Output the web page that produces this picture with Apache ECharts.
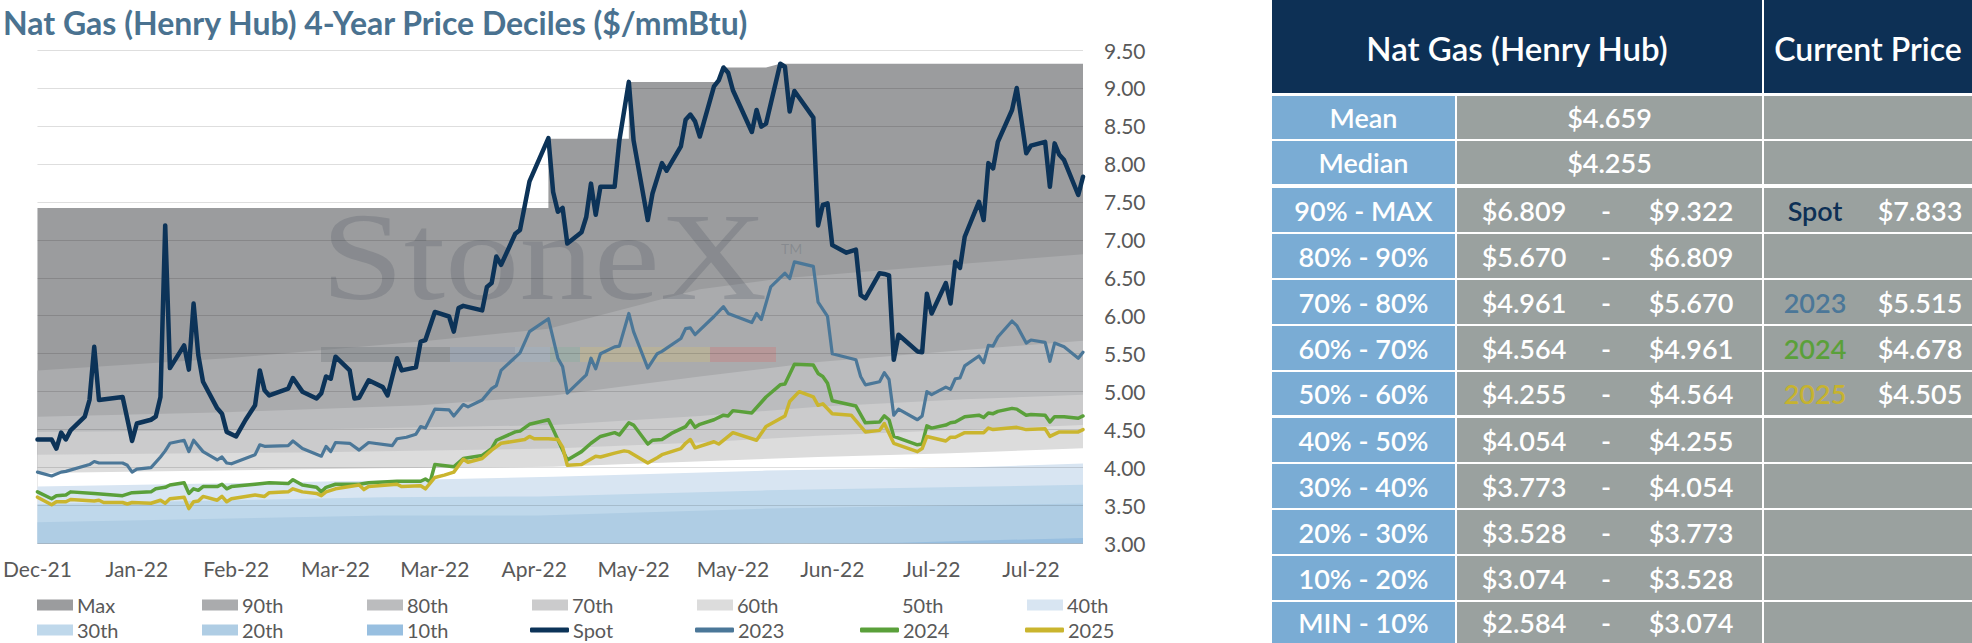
<!DOCTYPE html>
<html>
<head>
<meta charset="utf-8">
<script src="https://cdn.jsdelivr.net/npm/echarts@6/dist/echarts.min.js"></script>
<style>
html,body{margin:0;padding:0;background:#fff;overflow:hidden;}
#chart{width:1972px;height:643px;}
</style>
</head>
<body>
<div id="chart"></div>
<script>
// ---- axis tick labels (every 21 days from 2021-12-28) ----
const tickLabels = ['Dec-21','Jan-22','Feb-22','Mar-22','Mar-22','Apr-22','May-22','May-22','Jun-22','Jul-22','Jul-22'];

// ---- series: [day offset, $/mmBtu] ----
const spot = [[0,4.37],[3,4.37],[4,4.25],[5,4.46],[6,4.37],[7,4.49],[10,4.67],[11,4.89],[12,5.59],[13,4.89],[18,4.93],[20,4.35],[21,4.58],[24,4.63],[25,4.67],[26,4.93],[27,7.19],[28,5.31],[31,5.61],[32,5.29],[33,6.16],[34,5.48],[35,5.13],[38,4.78],[39,4.71],[40,4.47],[42,4.41],[44,4.63],[46,4.82],[47,5.28],[48,5.02],[49,4.95],[53,5.04],[54,5.18],[56,5.00],[59,4.91],[60,4.98],[61,5.20],[62,5.17],[63,5.46],[66,5.28],[67,4.91],[68,4.92],[70,5.15],[73,5.06],[74,4.95],[76,5.44],[77,5.28],[80,5.32],[81,5.66],[82,5.68],[84,6.05],[87,5.99],[88,5.79],[89,6.10],[90,6.13],[94,6.07],[95,6.38],[96,6.43],[97,6.78],[98,6.67],[101,7.08],[102,7.13],[104,7.77],[108,8.34],[109,7.63],[110,7.37],[111,7.42],[112,6.95],[115,7.10],[116,7.30],[117,7.74],[118,7.33],[119,7.70],[122,7.70],[123,8.31],[125,9.08],[126,8.31],[129,7.26],[130,7.61],[132,8.01],[133,7.91],[136,8.23],[137,8.58],[138,8.65],[139,8.56],[140,8.36],[143,9.02],[144,9.10],[145,9.27],[146,9.20],[147,8.97],[151,8.42],[152,8.71],[153,8.49],[154,8.53],[157,9.32],[158,9.28],[159,8.69],[160,8.96],[164,8.61],[165,7.19],[166,7.46],[167,7.48],[168,6.93],[171,6.83],[173,6.87],[174,6.27],[175,6.23],[178,6.56],[179,6.55],[180,6.53],[181,5.42],[182,5.75],[186,5.53],[187,5.52],[188,6.29],[189,6.03],[192,6.43],[193,6.16],[194,6.71],[195,6.63],[196,7.04],[199,7.50],[200,7.26],[201,8.01],[202,7.94],[203,8.29],[206,8.71],[207,9.00],[209,8.14],[210,8.24],[213,8.29],[214,7.70],[215,8.27],[216,8.12],[217,8.05],[220,7.59],[221,7.83]];

const strip2023 = [[0,3.94],[3,3.89],[5,3.94],[6,3.95],[11,4.04],[12,4.08],[13,4.06],[18,4.06],[19,4.03],[20,3.94],[21,3.98],[24,4.00],[26,4.14],[27,4.22],[28,4.32],[31,4.36],[32,4.21],[33,4.36],[35,4.21],[38,4.10],[39,4.14],[40,4.06],[41,4.05],[46,4.17],[47,4.30],[48,4.28],[53,4.29],[54,4.35],[56,4.25],[60,4.15],[61,4.28],[62,4.21],[63,4.33],[66,4.32],[68,4.23],[70,4.33],[75,4.29],[76,4.38],[78,4.40],[80,4.44],[81,4.54],[82,4.52],[84,4.77],[87,4.76],[88,4.68],[90,4.83],[91,4.80],[94,4.89],[96,5.04],[97,5.08],[98,5.28],[102,5.51],[104,5.79],[108,5.96],[110,5.44],[111,5.33],[112,4.98],[116,5.22],[117,5.44],[118,5.30],[119,5.50],[122,5.59],[123,5.60],[125,6.03],[126,5.79],[129,5.31],[131,5.50],[132,5.53],[136,5.70],[137,5.83],[138,5.84],[139,5.75],[143,5.99],[145,6.12],[146,6.03],[151,5.91],[152,6.03],[153,5.95],[155,6.38],[158,6.56],[159,6.49],[160,6.71],[164,6.65],[165,6.18],[167,5.99],[168,5.50],[173,5.42],[174,5.20],[175,5.09],[178,5.13],[179,5.25],[180,5.16],[181,4.69],[182,4.77],[186,4.63],[187,4.68],[188,5.00],[189,4.96],[192,5.06],[193,5.03],[194,5.17],[195,5.18],[196,5.34],[199,5.47],[200,5.38],[201,5.61],[202,5.60],[203,5.72],[206,5.93],[207,5.87],[209,5.64],[210,5.68],[213,5.65],[214,5.40],[215,5.64],[217,5.59],[220,5.44],[221,5.52]];

const strip2024 = [[0,3.68],[3,3.59],[4,3.63],[6,3.64],[7,3.68],[12,3.66],[18,3.63],[20,3.67],[24,3.68],[25,3.72],[27,3.74],[28,3.77],[31,3.80],[32,3.66],[33,3.72],[34,3.70],[35,3.75],[38,3.75],[39,3.78],[40,3.72],[41,3.75],[46,3.78],[49,3.80],[53,3.79],[54,3.84],[56,3.77],[59,3.74],[60,3.68],[61,3.74],[63,3.78],[68,3.78],[70,3.80],[76,3.82],[81,3.82],[82,3.85],[83,3.81],[84,4.04],[88,4.01],[90,4.12],[94,4.16],[96,4.25],[97,4.36],[101,4.47],[102,4.48],[104,4.57],[108,4.63],[109,4.50],[111,4.23],[112,4.10],[115,4.21],[117,4.32],[119,4.41],[122,4.46],[123,4.43],[125,4.59],[126,4.56],[129,4.31],[130,4.36],[132,4.37],[134,4.45],[137,4.54],[138,4.62],[139,4.53],[140,4.57],[143,4.63],[145,4.69],[146,4.68],[147,4.75],[151,4.72],[154,4.93],[157,5.09],[158,5.10],[160,5.36],[164,5.35],[165,5.24],[166,5.20],[167,5.11],[168,4.88],[173,4.81],[175,4.59],[178,4.60],[179,4.68],[180,4.63],[181,4.41],[186,4.30],[187,4.31],[188,4.55],[189,4.52],[192,4.56],[193,4.59],[194,4.60],[196,4.67],[199,4.69],[200,4.66],[201,4.72],[202,4.71],[203,4.74],[206,4.78],[207,4.77],[209,4.69],[210,4.70],[213,4.69],[214,4.60],[215,4.67],[217,4.67],[220,4.65],[221,4.68]];

const strip2025 = [[0,3.61],[3,3.51],[4,3.55],[6,3.55],[7,3.58],[12,3.56],[13,3.57],[14,3.54],[18,3.54],[19,3.52],[20,3.54],[24,3.53],[26,3.57],[27,3.53],[28,3.59],[31,3.61],[32,3.46],[33,3.55],[34,3.56],[35,3.62],[38,3.57],[39,3.62],[40,3.55],[41,3.59],[46,3.64],[48,3.62],[49,3.67],[53,3.68],[54,3.72],[56,3.68],[59,3.66],[60,3.63],[61,3.68],[63,3.72],[68,3.77],[69,3.71],[70,3.75],[76,3.78],[77,3.75],[81,3.76],[82,3.72],[84,3.87],[86,3.90],[88,3.94],[90,4.11],[91,4.07],[94,4.12],[96,4.23],[98,4.32],[103,4.37],[104,4.41],[105,4.38],[108,4.38],[110,4.37],[111,4.27],[112,4.03],[115,4.04],[118,4.15],[119,4.14],[122,4.19],[124,4.22],[125,4.21],[129,4.06],[131,4.13],[132,4.17],[136,4.25],[137,4.32],[138,4.37],[139,4.26],[143,4.34],[144,4.31],[147,4.46],[152,4.36],[154,4.54],[158,4.68],[159,4.87],[161,5.00],[164,4.93],[165,4.82],[166,4.84],[168,4.71],[172,4.69],[175,4.47],[178,4.49],[179,4.58],[181,4.32],[186,4.21],[187,4.25],[188,4.41],[192,4.35],[193,4.40],[194,4.40],[196,4.46],[200,4.46],[201,4.52],[202,4.50],[207,4.53],[209,4.50],[213,4.51],[214,4.41],[216,4.47],[220,4.47],[221,4.50]];

// ---- rolling 4-year deciles ----
const decMax = [[0,7.42],[108,7.42],[108,8.33],[125,8.33],[125,9.08],[144,9.08],[145,9.27],[154,9.27],[157,9.32],[221,9.32]];
const dec90 = [[0,5.28],[40,5.44],[81,5.66],[108,5.83],[140,6.35],[157,6.49],[197,6.69],[221,6.81]];
const dec80 = [[0,4.67],[40,4.73],[81,4.82],[109,4.95],[140,5.20],[165,5.39],[196,5.55],[221,5.67]];
const dec70 = [[0,4.47],[56,4.50],[109,4.56],[140,4.68],[165,4.80],[196,4.90],[221,4.96]];
const dec60 = [[0,4.17],[56,4.20],[109,4.25],[140,4.33],[165,4.42],[196,4.50],[221,4.56]];
const dec50 = [[0,3.93],[73,3.99],[109,4.01],[165,4.14],[193,4.19],[221,4.255]];
const dec40 = [[0,3.75],[73,3.83],[109,3.88],[154,3.96],[196,4.00],[221,4.054]];
const dec30 = [[0,3.52],[73,3.61],[106,3.62],[154,3.70],[221,3.773]];
const dec20 = [[0,3.28],[73,3.37],[106,3.37],[154,3.46],[221,3.528]];
const dec10 = [[0,2.95],[140,2.99],[182,3.01],[221,3.074]];

// ---- table ----
const tblHeader = ['Nat Gas (Henry Hub)', 'Current Price'];
const tblLabels = ['Mean','Median','90% - MAX','80% - 90%','70% - 80%','60% - 70%','50% - 60%','40% - 50%','30% - 40%','20% - 30%','10% - 20%','MIN - 10%'];
const tblLow  = ['$4.659','$4.255','$6.809','$5.670','$4.961','$4.564','$4.255','$4.054','$3.773','$3.528','$3.074','$2.584'];
const tblHigh = [null,null,'$9.322','$6.809','$5.670','$4.961','$4.564','$4.255','$4.054','$3.773','$3.528','$3.074'];
const curNames = ['','','Spot','','2023','2024','2025','','','','',''];
const curVals  = ['','','$7.833','','$5.515','$4.678','$4.505','','','','',''];

// ---- styling ----
const areaDefs = [
  ['Max', decMax, '#9b9c9e'],
  ['90th', dec90, '#aaabad'],
  ['80th', dec80, '#bbbcbe'],
  ['70th', dec70, '#cbcbcc'],
  ['60th', dec60, '#dcdcdc'],
  ['50th', dec50, '#ffffff'],
  ['40th', dec40, '#d8e5f2'],
  ['30th', dec30, '#bfd8eb'],
  ['20th', dec20, '#afcde4'],
  ['10th', dec10, '#98bfe0']
];
const lineDefs = [
  ['Spot', spot, '#0c3358', 4.5],
  ['2023', strip2023, '#4b7798', 3.2],
  ['2024', strip2024, '#5aa03a', 3.5],
  ['2025', strip2025, '#cab52e', 3.5]
];
const curColors = {'Spot':'#0d3055','2023':'#4b7798','2024':'#5aa03a','2025':'#c6b32f'};

const FONT = 'Lato, "Noto Sans", sans-serif';

const series = [];
areaDefs.forEach(([name, data, color]) => {
  series.push({
    name, type:'line', data, z:1, showSymbol:false, symbol:'none', silent:true,
    lineStyle:{width:0, color}, itemStyle:{color},
    areaStyle:{color, opacity:1, origin:'start'}
  });
});
lineDefs.forEach(([name, data, color, w]) => {
  series.push({
    name, type:'line', data, z:3, showSymbol:false, symbol:'none', silent:true,
    lineStyle:{width:w, color, join:'round', cap:'round'}, itemStyle:{color}
  });
});

const legendNames = areaDefs.map(a=>a[0]).concat(lineDefs.map(l=>l[0]));
const legends = legendNames.map((n, i) => {
  const isLine = i >= areaDefs.length;
  return {
    data:[{name:n, icon: isLine ? 'roundRect' : 'rect'}],
    left: 37 + 165 * (i % 7) - (isLine ? 2 : 0),
    top: (i < 7 ? 605 : 630) - 11,
    itemWidth: isLine ? 39 : 36,
    itemHeight: isLine ? 5 : 11,
    padding:0, itemGap:0, selectedMode:false,
    textStyle:{fontFamily:FONT, fontSize:20, color:'#595959', lineHeight:22, padding:[0,0,0,-1]}
  };
});

// table graphics
const graphic = [];
const X0 = 1272, C1 = 1455, C2 = 1457, C3 = 1762, C4 = 1764, X1 = 1972;
const rowTop = [96,141,188,234,280,326,372,418,464,510,556,602];
const rowBot = [139,184,232,278,324,370,415,462,508,554,600,643];
const cellFont = '600 27px ' + FONT;
function txt(x, y, text, fill, font){
  return {type:'text', x, y, z:10, silent:true,
    style:{text, fill, font, textAlign:'center', textVerticalAlign:'middle', align:'center', verticalAlign:'middle'}};
}
graphic.push({type:'rect', z:10, silent:true, shape:{x:X0, y:0, width:C3-X0, height:93}, style:{fill:'#0d3055'}});
graphic.push({type:'rect', z:10, silent:true, shape:{x:C4, y:0, width:X1-C4, height:93}, style:{fill:'#0d3055'}});
graphic.push(txt((X0+C3)/2, 48, tblHeader[0], '#ffffff', '600 33px ' + FONT));
graphic.push(txt((C4+X1)/2, 48, tblHeader[1], '#ffffff', '600 32px ' + FONT));
tblLabels.forEach((lab, i) => {
  const y0 = rowTop[i], h = rowBot[i] - rowTop[i], cy = (rowTop[i] + rowBot[i]) / 2;
  graphic.push({type:'rect', z:10, silent:true, shape:{x:X0, y:y0, width:C1-X0, height:h}, style:{fill:'#7aacd4'}});
  graphic.push({type:'rect', z:10, silent:true, shape:{x:C2, y:y0, width:C3-C2, height:h}, style:{fill:'#9aa19f'}});
  graphic.push({type:'rect', z:10, silent:true, shape:{x:C4, y:y0, width:X1-C4, height:h}, style:{fill:'#9aa19f'}});
  graphic.push(txt((X0+C1)/2, cy, lab, '#ffffff', cellFont));
  if (tblHigh[i] === null) {
    graphic.push(txt((C2+C3)/2, cy, tblLow[i], '#ffffff', cellFont));
  } else {
    graphic.push(txt(1524, cy, tblLow[i], '#ffffff', cellFont));
    graphic.push(txt(1606, cy, '-', '#ffffff', cellFont));
    graphic.push(txt(1691, cy, tblHigh[i], '#ffffff', cellFont));
  }
  if (curNames[i]) {
    graphic.push(txt(1815, cy, curNames[i], curColors[curNames[i]], cellFont));
    graphic.push(txt(1920, cy, curVals[i], '#ffffff', cellFont));
  }
});

// watermark
const wm = 'rgba(85,95,105,0.28)';
graphic.push({type:'text', x:321, y:320, z:2, silent:true, scaleX:1.19,
  style:{text:'StoneX', fill:wm, font:'125px "Liberation Serif", "DejaVu Serif", serif', textVerticalAlign:'bottom', verticalAlign:'bottom', textAlign:'left', align:'left'}});
graphic.push({type:'text', x:781, y:248, z:2, silent:true,
  style:{text:'TM', fill:wm, font:'14px ' + FONT, textVerticalAlign:'middle', verticalAlign:'middle'}});
const wmBar = [[321,450,'rgba(100,105,112,0.30)'],[450,515,'rgba(110,140,180,0.22)'],[515,550,'rgba(150,185,215,0.25)'],[550,580,'rgba(120,175,150,0.25)'],[580,710,'rgba(230,200,90,0.22)'],[710,776,'rgba(215,110,110,0.30)']];
wmBar.forEach(([a,b,c]) => graphic.push({type:'rect', z:2, silent:true, shape:{x:a, y:347, width:b-a, height:15}, style:{fill:c}}));

const chart = echarts.init(document.getElementById('chart'), null, {renderer:'svg'});
chart.setOption({
  animation:false,
  backgroundColor:'#ffffff',
  title:{text:'Nat Gas (Henry Hub) 4-Year Price Deciles ($/mmBtu)', left:3, top:6, padding:0,
    textStyle:{fontFamily:FONT, fontSize:32, fontWeight:'bold', color:'#4a7290', lineHeight:32}},
  grid:{left:35, right:889, top:50, bottom:99.5},
  xAxis:{type:'value', min:0, max:221, interval:21,
    axisLine:{show:false}, axisTick:{show:false}, splitLine:{show:false},
    axisLabel:{margin:14, fontFamily:FONT, fontSize:21, color:'#595959',
      formatter: v => (v % 21 === 0 && tickLabels[v/21]) ? tickLabels[v/21] : ''}},
  yAxis:{type:'value', position:'right', min:3, max:9.5, interval:0.5, z:2,
    axisLine:{show:false}, axisTick:{show:false},
    splitLine:{lineStyle:{color:'rgba(0,0,0,0.13)', width:1}},
    axisLabel:{margin:21, fontFamily:FONT, fontSize:21, color:'#595959', formatter: v => v.toFixed(2)}},
  legend:legends,
  series,
  graphic
});
</script>
</body>
</html>
